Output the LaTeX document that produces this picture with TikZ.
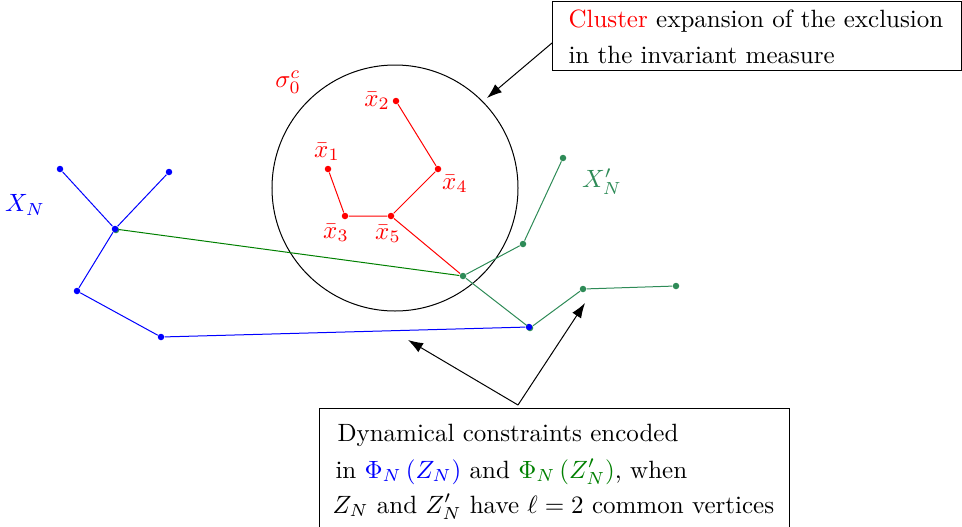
\documentclass[tikz,border=0pt]{standalone}
\usetikzlibrary{arrows.meta,calc}
\definecolor{sea}{RGB}{46,139,87}
\definecolor{dkgreen}{RGB}{0,128,0}
\begin{document}
\begin{tikzpicture}[x=0.4pt,y=-0.4pt,
  dot/.style={circle,inner sep=0pt,minimum size=2.6pt},
  rdot/.style={dot,fill=red},
  bdot/.style={dot,fill=blue},
  gdot/.style={dot,fill=sea},
  lab/.style={inner sep=0pt},
  redge/.style={red,line width=0.4pt},
  bedge/.style={blue,line width=0.4pt},
  gedge/.style={sea,line width=0.4pt},
  dedge/.style={dkgreen,line width=0.4pt},
  frame/.style={draw,inner sep=0pt,fill=white},
  txt/.style={inner sep=0pt,anchor=base west},
  arr/.style={-{Latex[length=6pt,width=4.2pt]},line width=0.4pt}]
\useasboundingbox (0,0) rectangle (962,527);

% circle
\node[circle,draw,inner sep=0pt,minimum size=98.4pt,line width=0.4pt] (sigma) at (395,188) {};
\node[lab,red] (sigl) at (288,82) {$\sigma_0^c$};

% red points
\node[rdot] (x1) at (328,169) {};
\node[rdot] (x2) at (396,101) {};
\node[rdot] (x3) at (345,216) {};
\node[rdot] (x4) at (438,169) {};
\node[rdot] (x5) at (391,216) {};
\node[lab,red] (lx1) at (327,152) {$\bar{x}_1$};
\node[lab,red] (lx2) at (377,101) {$\bar{x}_2$};
\node[lab,red] (lx3) at (336,233) {$\bar{x}_3$};
\node[lab,red] (lx4) at (455,184) {$\bar{x}_4$};
\node[lab,red] (lx5) at (388,234) {$\bar{x}_5$};

% blue points
\node[bdot] (b1) at (60,169) {};
\node[bdot] (b2) at (169,172) {};
\node[gdot] (b3g) at (116,230) {};
\node[bdot] (b3) at (115,229) {};
\node[bdot] (b4) at (77,291) {};
\node[bdot] (b5) at (161,337) {};

% green points
\node[gdot] (g1) at (563,158) {};
\node[gdot] (g2) at (523,244) {};
\node[gdot] (g3) at (463,276) {};
\node[gdot] (g4) at (583,289) {};
\node[gdot] (g5) at (676,286) {};
\node[gdot] (g6) at (530,328) {};
\node[bdot] (b6) at (529,327) {};

\draw[bedge] (b1) -- (b3) -- (b2);
\draw[bedge] (b3) -- (b4) -- (b5) -- (b6);
\draw[dedge] (b3) -- (g3);
\draw[gedge] (g1) -- (g2) -- (g3) -- (g6) -- (g4) -- (g5);
\draw[redge] (x1) -- (x3) -- (x5) -- (x4) -- (x2);
\draw[redge] (x5) -- (g3);

\node[lab,blue] (XN) at (25,205) {$X_N$};
\node[lab,sea] (XNp) at (602,182) {$X_N'$};

% top box
\node[frame,anchor=north west,minimum width=163.6pt,minimum height=27.6pt] (topbox) at (552,1) {};
\node[txt] (t1) at (568,27) {\textcolor{red}{Cluster} expansion of the exclusion};
\node[txt] (t2) at (568,63) {in the invariant measure};
\coordinate (tipA) at (487,98);
\draw[arr] ($(topbox.north west)!0.6!(topbox.south west)$) -- (tipA);

% bottom box
\node[frame,anchor=north west,minimum width=188pt,minimum height=52pt] (botbox) at (319,408) {};
\node[txt] (u1) at (337,441) {Dynamical constraints encoded};
\node[txt] (u2) at (335,478) {in \textcolor{blue}{$\Phi_N\left(Z_N\right)$} and \textcolor{dkgreen}{$\Phi_N\left(Z_N'\right)$}, when};
\node[txt] (u3) at (332,513) {$Z_N$ and $Z_N'$ have $\ell=2$ common vertices};
\coordinate (apex) at (518,405);
\coordinate (tipB) at (408,340);
\coordinate (tipC) at (585,303);
\draw[arr] (apex) -- (tipB);
\draw[arr] (apex) -- (tipC);
\end{tikzpicture}
\end{document}
